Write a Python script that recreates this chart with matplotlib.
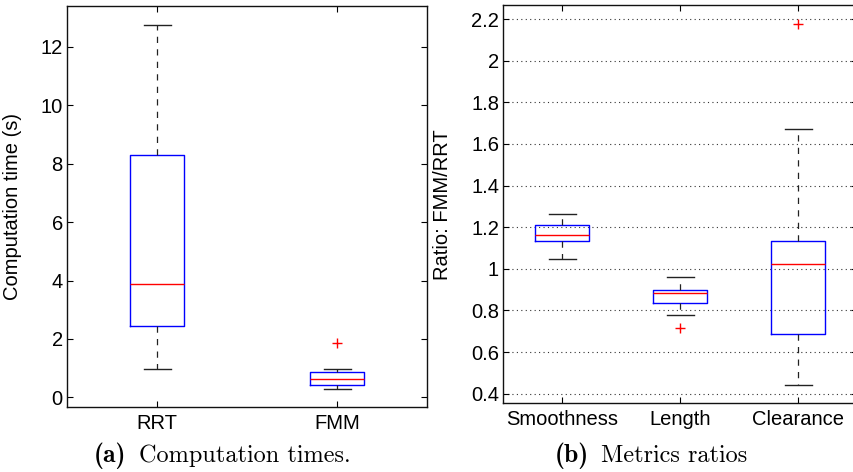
import matplotlib
matplotlib.use('Agg')
import matplotlib.pyplot as plt
from matplotlib.ticker import FormatStrFormatter

plt.rcParams['font.family'] = ['Liberation Sans', 'DejaVu Sans']

# computation times (s)
time_labels = ['RRT', 'FMM']
time_whislo = [0.97, 0.27]
time_q1 = [2.45, 0.42]
time_med = [3.87, 0.62]
time_q3 = [8.30, 0.88]
time_whishi = [12.75, 0.97]
time_fliers = [[], [1.85]]

# metric ratios FMM/RRT
ratio_labels = ['Smoothness', 'Length', 'Clearance']
ratio_whislo = [1.046, 0.777, 0.444]
ratio_q1 = [1.135, 0.834, 0.689]
ratio_med = [1.163, 0.882, 1.022]
ratio_q3 = [1.212, 0.897, 1.135]
ratio_whishi = [1.265, 0.959, 1.673]
ratio_fliers = [[], [0.714], [2.177]]


def make_stats(labels, lo, q1, med, q3, hi, fl):
    stats = []
    for i in range(len(labels)):
        stats.append(dict(label=labels[i], whislo=lo[i], q1=q1[i], med=med[i],
                          q3=q3[i], whishi=hi[i], fliers=fl[i]))
    return stats


def draw_box(ax, stats, width):
    ax.bxp(stats, widths=width, showfliers=True,
           boxprops=dict(color='#0000ff', linewidth=1.0),
           medianprops=dict(color='#ff0000', linewidth=1.0),
           whiskerprops=dict(color='#222222', linewidth=0.9, linestyle=(0, (5, 5))),
           capprops=dict(color='#222222', linewidth=1.0),
           flierprops=dict(marker='+', markeredgecolor='#ff0000', markersize=7,
                           markeredgewidth=1.0, linestyle='none'))
    ax.tick_params(direction='in', length=4, width=0.8, labelsize=14.5,
                   top=True, right=True, pad=3)
    ax.tick_params(axis='x', pad=5)
    for s in ax.spines.values():
        s.set_linewidth(1.0)
        s.set_color('#111111')


fig = plt.figure(figsize=(8.54, 4.72), dpi=100)

ax1 = fig.add_axes([0.0785, 0.1377, 0.4215, 0.8496])
draw_box(ax1, make_stats(time_labels, time_whislo, time_q1, time_med, time_q3,
                         time_whishi, time_fliers), 0.3)
ax1.set_xlim(0.5, 2.5)
ax1.set_ylim(-0.33, 13.4)
ax1.set_yticks([0, 2, 4, 6, 8, 10, 12])
ax1.set_ylabel('Computation time (s)', fontsize=14.5)
ax1.yaxis.set_label_coords(-0.126, 0.5)

ax2 = fig.add_axes([0.5893, 0.1455, 0.4145, 0.8433])
draw_box(ax2, make_stats(ratio_labels, ratio_whislo, ratio_q1, ratio_med, ratio_q3,
                         ratio_whishi, ratio_fliers), 0.457)
ax2.set_xlim(0.5, 3.5)
ax2.set_ylim(0.354, 2.266)
ax2.set_yticks([0.4, 0.6, 0.8, 1.0, 1.2, 1.4, 1.6, 1.8, 2.0, 2.2])
ax2.yaxis.set_major_formatter(FormatStrFormatter('%g'))
ax2.yaxis.grid(True, linestyle=(0, (1, 3)), color='#333333', linewidth=0.8)
ax2.set_axisbelow(True)
ax2.set_ylabel('Ratio: FMM/RRT', fontsize=14.5)
ax2.yaxis.set_label_coords(-0.146, 0.5)

# subfigure captions (LaTeX style)
cap_y = 1 - 462.0 / 472
fig.text(110 / 854, cap_y, '(a)', family='cmb10', fontsize=18.5, ha='center', va='baseline')
fig.text(139 / 854, cap_y, 'Computation times.', family='cmr10', fontsize=17.5,
         ha='left', va='baseline')
fig.text(572 / 854, cap_y, '(b)', family='cmb10', fontsize=18.5, ha='center', va='baseline')
fig.text(601 / 854, cap_y, 'Metrics ratios', family='cmr10', fontsize=17.5,
         ha='left', va='baseline')

fig.savefig('out.png', dpi=100)
